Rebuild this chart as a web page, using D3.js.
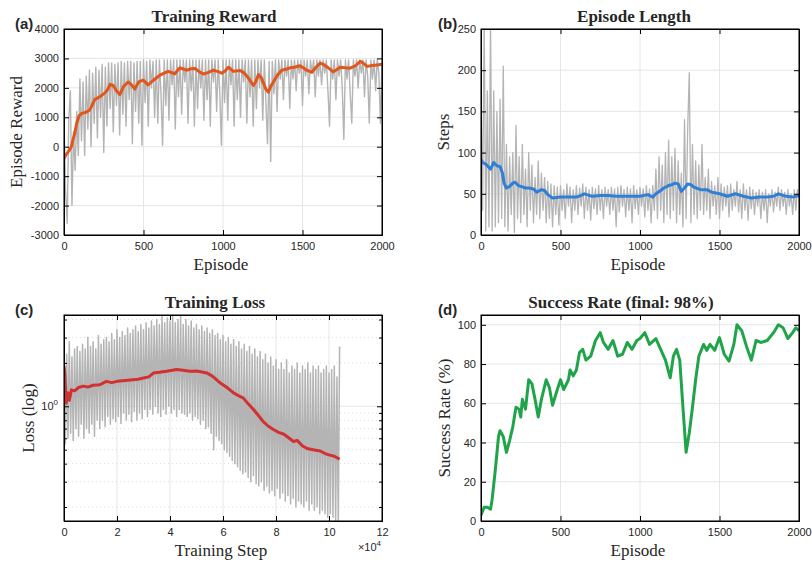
<!DOCTYPE html>
<html>
<head>
<meta charset="utf-8">
<script src="https://cdn.jsdelivr.net/npm/d3@7"></script>
<style>
  body { margin: 0; background: #fff; }
  text { fill: #262626; }
</style>
</head>
<body>
<div id="chart"></div>
<script>
// ---- data ----
const rewardRaw = [
  800, -1500, -2600, 900, 1900, -2000, 500, -800, 1200, -300,
  2300, 200, 2200, -300, 2400, 600, 2600, 0, 2500, 800,
  2700, 300, 2600, 1000, 2800, -200, 2700, 700, 2850, 1300,
  2850, 500, 2800, 1400, 2850, 400, 2900, 1100, 2850, 700,
  2900, 1600, 2900, 100, 2850, 1200, 2900, 800, 2900, 50,
  2950, 1500, 2900, 700, 2950, 2000, 2900, 1000, 2950, 800,
  2950, 1800, 50, 2950, 1400, 2950, 900, 2950, 2100, 2950,
  600, 2950, 1700, 2950, 1100, 2950, 2200, 2950, 800, 2950,
  1900, 2950, 700, 2950, 1300, 2950, 2000, 2950, 900, 2950,
  1600, 2950, 700, 2950, 2200, 2950, 1200, 2950, 1800, 50,
  2950, 1500, 2950, 900, 2950, 2100, 2950, 700, 2950, 1600,
  2950, 1000, 2950, 2200, 2950, 800, 2950, 1700, 2950, 700,
  2950, 1300, 2950, 2000, 2950, 900, 2950, 1500, 100, 2900,
  -500, 2900, 1800, 2950, 1200, 2950, 2300, 2950, 1600, 2950,
  2400, 2950, 1300, 2950, 2300, 2950, 1900, 2950, 2500, 2950,
  1400, 2950, 2400, 2950, 1800, 2950, 2500, 2950, 1700, 2950,
  2400, 2950, 2100, 2950, 2500, 2950, 1900, 700, 2950, 2300,
  2950, 1600, 2950, 2400, 2950, 2000, 250, 2950, 2300, 2950,
  1800, 800, 2950, 2400, 2950, 2000, 2950, 2500, 2950, 1700,
  2950, 2400, 800, 2950, 2300, 2950, 1900, 2950, 2500, 800,
  2900
];
const rewardSmoothEp = [0, 15, 30, 46, 67, 80, 95, 110, 125, 141, 162, 180, 193, 225, 256, 275, 290, 309, 330, 351, 375, 403, 425, 445, 470, 498, 529, 560, 603, 630, 655, 697, 729, 750, 771, 800, 824, 850, 876, 905, 939, 965, 992, 1015, 1034, 1065, 1107, 1135, 1160, 1191, 1205, 1223, 1240, 1254, 1270, 1286, 1300, 1317, 1345, 1370, 1400, 1422, 1450, 1485, 1520, 1559, 1585, 1611, 1630, 1653, 1680, 1695, 1737, 1770, 1800, 1835, 1863, 1880, 1905, 1940, 1970, 2000];
const rewardSmooth = [-400, -250, -150, 0, 450, 800, 1050, 1130, 1150, 1180, 1250, 1450, 1600, 1700, 1820, 1950, 2120, 2080, 1900, 1770, 2050, 2200, 2100, 1960, 2200, 2260, 2100, 2250, 2430, 2500, 2560, 2480, 2680, 2640, 2600, 2650, 2660, 2550, 2470, 2520, 2600, 2560, 2500, 2580, 2700, 2560, 2590, 2500, 2330, 2080, 2200, 2450, 2350, 2170, 1950, 1850, 2050, 2200, 2450, 2600, 2640, 2680, 2700, 2750, 2620, 2530, 2700, 2840, 2800, 2720, 2600, 2550, 2700, 2680, 2670, 2760, 2900, 2850, 2730, 2760, 2780, 2800];

const lengthRaw = [
  180, 30, 260, 5, 175, 10, 260, 5, 175, 10,
  150, 15, 165, 20, 205, 10, 110, 5, 95, 25,
  100, 3, 133, 20, 95, 15, 110, 25, 80, 10,
  100, 30, 85, 15, 70, 25, 90, 20, 75, 30,
  70, 15, 65, 20, 62, 10, 60, 25, 58, 12,
  60, 30, 55, 20, 62, 35, 58, 15, 55, 30,
  60, 25, 57, 35, 62, 20, 58, 30, 55, 18,
  58, 32, 56, 25, 60, 30, 55, 20, 58, 35,
  55, 25, 58, 30, 56, 10, 58, 28, 60, 35,
  55, 22, 58, 30, 56, 15, 60, 32, 55, 25,
  58, 35, 56, 22, 60, 30, 56, 15, 60, 30,
  80, 20, 95, 30, 85, 15, 100, 25, 115, 20,
  95, 30, 105, 15, 90, 25, 75, 10, 140, 20,
  130, 197, 15, 110, 25, 90, 20, 85, 30, 110,
  25, 70, 30, 80, 20, 65, 35, 60, 25, 70,
  20, 62, 30, 58, 35, 60, 22, 62, 30, 55,
  35, 65, 28, 55, 20, 62, 30, 55, 18, 58,
  32, 55, 25, 52, 35, 55, 20, 52, 30, 55,
  15, 50, 35, 55, 28, 52, 35, 58, 30, 55,
  35, 52, 25, 55, 35, 50, 25, 55, 30, 55,
  45
];
const lengthSmoothEp = [0, 10, 30, 50, 60, 70, 80, 100, 120, 135, 145, 160, 180, 200, 215, 235, 250, 280, 300, 330, 350, 380, 400, 420, 450, 500, 550, 600, 630, 650, 680, 700, 750, 800, 850, 900, 950, 1000, 1050, 1080, 1100, 1130, 1150, 1180, 1200, 1220, 1240, 1260, 1280, 1300, 1320, 1340, 1380, 1420, 1450, 1500, 1550, 1600, 1650, 1700, 1750, 1800, 1840, 1870, 1900, 1920, 1960, 2000];
const lengthSmooth = [92, 88, 86, 82, 80, 84, 88, 84, 83, 75, 63, 57, 59, 63, 64, 60, 59, 57, 57, 56, 52, 55, 54, 49, 45, 46, 46, 46, 48, 50, 48, 47, 48, 48, 47, 47, 47, 47, 49, 46, 50, 54, 57, 60, 61, 63, 62, 53, 57, 62, 61, 58, 55, 55, 52, 50, 47, 50, 47, 45, 46, 46, 47, 50, 48, 47, 46, 48];

const lossRaw = [
  2.6, 0.55, 2.3, 0.6, 2.8, 0.65, 2.2, 0.58, 2.5, 0.7,
  2.6, 0.62, 2.4, 0.75, 2.7, 0.6, 2.5, 0.7, 3.0, 0.65,
  2.6, 0.75, 2.8, 0.62, 2.5, 0.8, 3.1, 0.7, 2.7, 0.8,
  2.9, 0.72, 3.0, 0.85, 2.8, 0.75, 3.2, 0.82, 2.9, 0.78,
  3.4, 0.85, 3.0, 0.76, 3.3, 0.9, 3.1, 0.8, 3.5, 0.88,
  3.2, 0.78, 3.4, 0.92, 3.6, 0.8, 3.3, 0.9, 3.7, 0.82,
  3.4, 0.95, 3.8, 0.85, 3.5, 0.95, 3.9, 0.88, 3.6, 1.0,
  4.0, 0.9, 3.7, 0.85, 4.3, 0.95, 3.8, 0.88, 4.1, 1.0,
  3.9, 0.9, 4.3, 0.95, 3.8, 0.85, 4.0, 0.95, 4.2, 0.9,
  3.7, 0.88, 4.0, 0.85, 3.6, 0.9, 3.9, 0.8, 3.5, 0.85,
  3.7, 0.82, 3.4, 0.75, 3.6, 0.8, 3.3, 0.7, 3.5, 0.72,
  3.2, 0.65, 3.4, 0.5, 3.1, 0.62, 3.2, 0.58, 2.9, 0.55,
  3.1, 0.5, 2.8, 0.48, 3.0, 0.45, 2.7, 0.42, 2.9, 0.4,
  2.6, 0.38, 2.8, 0.36, 2.5, 0.34, 2.7, 0.35, 2.4, 0.32,
  2.6, 0.3, 2.3, 0.33, 2.5, 0.29, 2.2, 0.28, 2.4, 0.3,
  2.1, 0.26, 2.3, 0.28, 2.0, 0.25, 2.2, 0.26, 1.9, 0.24,
  2.1, 0.27, 1.8, 0.23, 2.0, 0.25, 1.8, 0.22, 2.1, 0.24,
  1.7, 0.21, 1.9, 0.23, 1.8, 0.2, 2.0, 0.22, 1.7, 0.21,
  1.9, 0.2, 1.8, 0.22, 2.0, 0.19, 1.7, 0.21, 1.9, 0.19,
  1.8, 0.2, 1.9, 0.18, 1.7, 0.19, 1.8, 0.18, 1.9, 0.17,
  1.7, 0.18, 1.8, 0.17, 1.9, 0.16, 1.6, 0.15, 2.6
];
const lossSmoothStep = [0, 300, 800, 1500, 2000, 2800, 4000, 5500, 7200, 9000, 11000, 13500, 16000, 18000, 20000, 23000, 26000, 28000, 30000, 32000, 33700, 36000, 38700, 42500, 45000, 47500, 50000, 52000, 54000, 56000, 59000, 61500, 64000, 66000, 67700, 69500, 71500, 73000, 75000, 77000, 79000, 81000, 83000, 85000, 86600, 88000, 90000, 91700, 94000, 96700, 98500, 100000, 102000, 104000];
const lossSmooth = [1.9, 1.7, 1.05, 1.24, 1.1, 1.3, 1.28, 1.35, 1.38, 1.36, 1.4, 1.41, 1.49, 1.46, 1.49, 1.51, 1.53, 1.54, 1.57, 1.6, 1.7, 1.72, 1.75, 1.8, 1.78, 1.75, 1.76, 1.73, 1.7, 1.62, 1.45, 1.35, 1.24, 1.18, 1.14, 1.04, 0.95, 0.88, 0.79, 0.73, 0.69, 0.66, 0.64, 0.6, 0.57, 0.58, 0.53, 0.51, 0.5, 0.49, 0.47, 0.46, 0.45, 0.43];

const successEp = [0, 10, 20, 40, 60, 70, 90, 110, 120, 140, 160, 180, 200, 220, 240, 250, 260, 280, 300, 320, 340, 360, 380, 410, 430, 450, 480, 500, 520, 550, 560, 580, 600, 620, 640, 660, 690, 720, 750, 770, 800, 830, 860, 890, 920, 950, 980, 1000, 1030, 1060, 1100, 1130, 1160, 1190, 1210, 1230, 1250, 1270, 1290, 1310, 1330, 1350, 1370, 1400, 1420, 1440, 1470, 1500, 1530, 1560, 1590, 1610, 1640, 1670, 1700, 1730, 1760, 1800, 1840, 1870, 1900, 1930, 1960, 1980, 2000];
const successRate = [3, 5, 7, 7, 6, 11, 26, 43, 46, 43, 35, 41, 48, 58, 57, 53, 62, 57, 72, 70, 62, 53, 62, 72, 68, 59, 67, 72, 67, 72, 77, 74, 77, 86, 87.5, 82, 84, 92, 96, 91, 87.5, 92, 84, 85, 91, 87.5, 92, 93, 96, 90, 93, 87.5, 82, 73, 84, 87.5, 82, 58, 35, 45, 58, 72, 84, 90, 87, 90, 87, 93.5, 85, 81.5, 90, 100, 97, 89, 82, 92, 91, 92, 96, 100, 98.5, 93, 96, 98.5, 97];

const rewardTicksY = [-3000, -2000, -1000, 0, 1000, 2000, 3000, 4000];
const episodeTicks = [0, 500, 1000, 1500, 2000];
const lengthTicksY = [0, 50, 100, 150, 200, 250];
const stepTicks = [0, 20000, 40000, 60000, 80000, 100000, 120000];
const lossMinorTicks = [0.2, 0.3, 0.4, 0.5, 0.6, 0.7, 0.8, 0.9, 2, 3, 4];
const successTicksY = [0, 20, 40, 60, 80, 100];

const serif = '"Liberation Serif", "Times New Roman", serif';
const sans = '"Liberation Sans", Arial, sans-serif';
const rawGray = '#b4b4b4';

const svg = d3.select('#chart').append('svg')
  .attr('width', 812)
  .attr('height', 565);

const pw = 318, ph = 206;

function makePanel(cfg) {
  const g = svg.append('g').attr('transform', `translate(${cfg.left},${cfg.top})`);
  const x = cfg.x, y = cfg.y;
  const clipId = 'clip-' + cfg.id;
  g.append('clipPath').attr('id', clipId)
    .append('rect').attr('width', pw).attr('height', ph);

  // grid
  const grid = g.append('g');
  grid.selectAll('.gx').data(cfg.xTicks).join('line')
    .attr('x1', d => x(d)).attr('x2', d => x(d))
    .attr('y1', 0).attr('y2', ph)
    .attr('stroke', '#e6e6e6').attr('stroke-width', 1);
  grid.selectAll('.gy').data(cfg.yTicks).join('line')
    .attr('x1', 0).attr('x2', pw)
    .attr('y1', d => y(d)).attr('y2', d => y(d))
    .attr('stroke', '#e6e6e6').attr('stroke-width', 1);
  if (cfg.yMinor) {
    grid.selectAll('.gm').data(cfg.yMinor).join('line')
      .attr('x1', 0).attr('x2', pw)
      .attr('y1', d => y(d)).attr('y2', d => y(d))
      .attr('stroke', '#dcdcdc').attr('stroke-width', 1)
      .attr('stroke-dasharray', '1,3');
  }

  const plot = g.append('g').attr('clip-path', `url(#${clipId})`);

  // axes, ticks inward on all sides
  const fmtX = cfg.xFormat || (d => d);
  const fmtY = cfg.yFormat || (d => d);
  g.append('g').attr('transform', `translate(0,${ph})`)
    .call(d3.axisBottom(x).tickValues(cfg.xTicks).tickSize(-5).tickPadding(7).tickFormat(fmtX));
  g.append('g')
    .call(d3.axisTop(x).tickValues(cfg.xTicks).tickSize(-5).tickFormat(''));
  g.append('g')
    .call(d3.axisLeft(y).tickValues(cfg.yTicks).tickSize(-5).tickPadding(5).tickFormat(fmtY));
  g.append('g').attr('transform', `translate(${pw},0)`)
    .call(d3.axisRight(y).tickValues(cfg.yTicks).tickSize(-5).tickFormat(''));
  if (cfg.yMinor) {
    g.append('g')
      .call(d3.axisLeft(y).tickValues(cfg.yMinor).tickSize(-3).tickFormat(''));
    g.append('g').attr('transform', `translate(${pw},0)`)
      .call(d3.axisRight(y).tickValues(cfg.yMinor).tickSize(-3).tickFormat(''));
  }
  g.selectAll('.domain').attr('stroke', '#000').attr('stroke-width', 1);
  g.selectAll('.tick line').attr('stroke', '#000');
  g.selectAll('.tick text')
    .style('font-family', sans).style('font-size', '11px').attr('fill', '#262626');

  // box
  g.append('rect').attr('width', pw).attr('height', ph)
    .attr('fill', 'none').attr('stroke', '#000').attr('stroke-width', 1);

  // title, labels
  g.append('text')
    .attr('x', cfg.titleX - cfg.left).attr('y', -7)
    .attr('text-anchor', 'middle')
    .style('font-family', serif).style('font-size', '17px').style('font-weight', 'bold')
    .attr('fill', '#1a1a1a')
    .text(cfg.title);
  g.append('text')
    .attr('x', pw / 2 - 2).attr('y', ph + 35)
    .attr('text-anchor', 'middle')
    .style('font-family', serif).style('font-size', '17px')
    .text(cfg.xLabel);
  g.append('text')
    .attr('transform', `translate(${cfg.yLabelX - cfg.left},${ph / 2}) rotate(-90)`)
    .attr('text-anchor', 'middle')
    .style('font-family', serif).style('font-size', '17px')
    .text(cfg.yLabel);
  svg.append('text')
    .attr('x', cfg.tagX).attr('y', cfg.top)
    .style('font-family', sans).style('font-size', '15px').style('font-weight', 'bold')
    .attr('fill', '#000')
    .text(cfg.tag);

  return { g, plot };
}

function drawLine(plot, xs, ys, x, y, color, width) {
  const pts = xs.map((d, i) => [d, ys[i]]);
  plot.append('path')
    .datum(pts)
    .attr('fill', 'none')
    .attr('stroke', color)
    .attr('stroke-width', width)
    .attr('stroke-linejoin', 'round')
    .attr('d', d3.line().x(d => x(d[0])).y(d => y(d[1])));
}

const rawEp = d3.range(0, 2001, 10);
const rawStep = d3.range(0, 104001, 500);

// (a) Training Reward
{
  const x = d3.scaleLinear().domain([0, 2000]).range([0, pw]);
  const y = d3.scaleLinear().domain([-3000, 4000]).range([ph, 0]);
  const p = makePanel({ id: 'a', tag: '(a)', tagX: 15, left: 64, top: 29, x, y,
    xTicks: episodeTicks, yTicks: rewardTicksY,
    title: 'Training Reward', titleX: 214, xLabel: 'Episode', yLabel: 'Episode Reward', yLabelX: 22 });
  drawLine(p.plot, rawEp, rewardRaw, x, y, rawGray, 1.4);
  drawLine(p.plot, rewardSmoothEp, rewardSmooth, x, y, '#e0561b', 3);
}

// (b) Episode Length
{
  const x = d3.scaleLinear().domain([0, 2000]).range([0, pw]);
  const y = d3.scaleLinear().domain([0, 250]).range([ph, 0]);
  const p = makePanel({ id: 'b', tag: '(b)', tagX: 438, left: 481, top: 29, x, y,
    xTicks: episodeTicks, yTicks: lengthTicksY,
    title: 'Episode Length', titleX: 634, xLabel: 'Episode', yLabel: 'Steps', yLabelX: 449 });
  drawLine(p.plot, rawEp, lengthRaw, x, y, rawGray, 1.3);
  drawLine(p.plot, lengthSmoothEp, lengthSmooth, x, y, '#2f7fd6', 3);
}

// (c) Training Loss
{
  const x = d3.scaleLinear().domain([0, 120000]).range([0, pw]);
  const y = d3.scaleLog().domain([0.16, 4.3]).range([ph, 0]);
  const p = makePanel({ id: 'c', tag: '(c)', tagX: 15, left: 64, top: 315, x, y,
    xTicks: stepTicks, yTicks: [1], yMinor: lossMinorTicks,
    xFormat: d => d / 10000, yFormat: () => '',
    title: 'Training Loss', titleX: 215, xLabel: 'Training Step', yLabel: 'Loss (log)', yLabelX: 34 });
  drawLine(p.plot, rawStep, lossRaw, x, y, rawGray, 1.5);
  drawLine(p.plot, lossSmoothStep, lossSmooth, x, y, '#d23131', 3);

  const lbl = p.g.append('text')
    .attr('x', -6).attr('y', y(1) + 4)
    .attr('text-anchor', 'end')
    .style('font-family', sans).style('font-size', '11px');
  lbl.append('tspan').text('10');
  lbl.append('tspan').attr('dy', -5).style('font-size', '8px').text('0');

  const ex = p.g.append('text')
    .attr('x', pw - 1).attr('y', ph + 30)
    .attr('text-anchor', 'end')
    .style('font-family', sans).style('font-size', '11px');
  ex.append('tspan').text('\u00d710');
  ex.append('tspan').attr('dy', -5).style('font-size', '8px').text('4');
}

// (d) Success Rate
{
  const x = d3.scaleLinear().domain([0, 2000]).range([0, pw]);
  const y = d3.scaleLinear().domain([0, 105]).range([ph, 0]);
  const p = makePanel({ id: 'd', tag: '(d)', tagX: 438, left: 481, top: 315, x, y,
    xTicks: episodeTicks, yTicks: successTicksY,
    title: 'Success Rate (final: 98%)', titleX: 621, xLabel: 'Episode', yLabel: 'Success Rate (%)', yLabelX: 450 });
  drawLine(p.plot, successEp, successRate, x, y, '#1fa44a', 3);
}
</script>
</body>
</html>
